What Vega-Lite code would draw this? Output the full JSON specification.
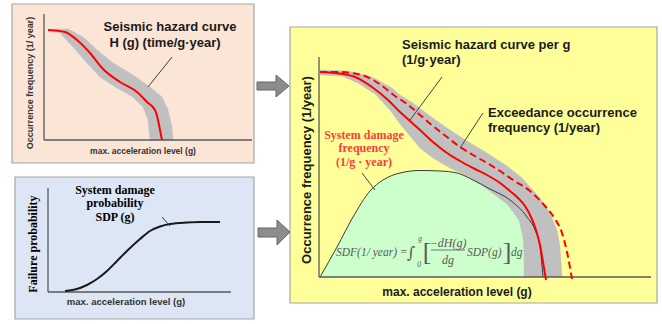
{
  "$schema": "https://vega.github.io/schema/vega-lite/v6.json",
  "width": 662,
  "height": 324,
  "autosize": {"type": "fit", "contains": "padding"},
  "padding": 0,
  "background": "white",
  "config": {"view": {"stroke": null}, "axis": {"disable": true}, "legend": {"disable": true}},
  "datasets": {
    "boxes": [
      {"panel": "hazard", "x": 12, "x2": 254, "y": 4, "y2": 163},
      {"panel": "damage", "x": 15, "x2": 254, "y": 177, "y2": 319},
      {"panel": "result", "x": 290, "x2": 657, "y": 27, "y2": 303}
    ],
    "axes": [
      {"x": 44, "y": 14, "x2": 44, "y2": 140},
      {"x": 44, "y": 140, "x2": 252, "y2": 140},
      {"x": 48, "y": 188, "x2": 48, "y2": 292},
      {"x": 48, "y": 292, "x2": 231, "y2": 292},
      {"x": 319, "y": 57, "x2": 319, "y2": 277},
      {"x": 319, "y": 277, "x2": 651, "y2": 277}
    ],
    "leaders": [
      {"x": 172, "y": 57, "x2": 148, "y2": 87},
      {"x": 162, "y": 217, "x2": 170, "y2": 226},
      {"x": 442, "y": 77, "x2": 410, "y2": 120},
      {"x": 483, "y": 113, "x2": 460, "y2": 148},
      {"x": 362, "y": 173, "x2": 375, "y2": 190}
    ],
    "smallBand": [
      {"i": 1, "x": 48, "y": 29}, {"i": 2, "x": 68, "y": 29}, {"i": 3, "x": 83, "y": 37}, {"i": 4, "x": 97, "y": 50},
      {"i": 5, "x": 113, "y": 63}, {"i": 6, "x": 133, "y": 75}, {"i": 7, "x": 150, "y": 87}, {"i": 8, "x": 162, "y": 97},
      {"i": 9, "x": 168, "y": 110}, {"i": 10, "x": 172, "y": 127}, {"i": 11, "x": 173, "y": 140},
      {"i": 12, "x": 150, "y": 140}, {"i": 13, "x": 148, "y": 120}, {"i": 14, "x": 143, "y": 107}, {"i": 15, "x": 133, "y": 97},
      {"i": 16, "x": 117, "y": 88}, {"i": 17, "x": 100, "y": 77}, {"i": 18, "x": 87, "y": 63}, {"i": 19, "x": 73, "y": 47},
      {"i": 20, "x": 60, "y": 33}, {"i": 21, "x": 48, "y": 31}
    ],
    "smallRed": [
      {"i": 1, "x": 48, "y": 30}, {"i": 2, "x": 65, "y": 32}, {"i": 3, "x": 77, "y": 40}, {"i": 4, "x": 90, "y": 53},
      {"i": 5, "x": 103, "y": 69}, {"i": 6, "x": 120, "y": 82}, {"i": 7, "x": 137, "y": 92}, {"i": 8, "x": 147, "y": 102},
      {"i": 9, "x": 155, "y": 110}, {"i": 10, "x": 158, "y": 120}, {"i": 11, "x": 160, "y": 130}, {"i": 12, "x": 162, "y": 140}
    ],
    "sdp": [
      {"i": 1, "x": 65, "y": 291}, {"i": 2, "x": 75, "y": 289.5}, {"i": 3, "x": 87, "y": 285}, {"i": 4, "x": 97, "y": 279},
      {"i": 5, "x": 107, "y": 271}, {"i": 6, "x": 117, "y": 261}, {"i": 7, "x": 128, "y": 250}, {"i": 8, "x": 140, "y": 239},
      {"i": 9, "x": 150, "y": 231}, {"i": 10, "x": 160, "y": 226.5}, {"i": 11, "x": 170, "y": 224}, {"i": 12, "x": 187, "y": 222.5},
      {"i": 13, "x": 200, "y": 222}, {"i": 14, "x": 220, "y": 222}
    ],
    "sdf": [
      {"i": 1, "x": 320, "y": 277}, {"i": 2, "x": 337, "y": 247}, {"i": 3, "x": 353, "y": 217}, {"i": 4, "x": 370, "y": 191},
      {"i": 5, "x": 383, "y": 180}, {"i": 6, "x": 400, "y": 173}, {"i": 7, "x": 420, "y": 170.5}, {"i": 8, "x": 440, "y": 171},
      {"i": 9, "x": 457, "y": 173}, {"i": 10, "x": 473, "y": 180}, {"i": 11, "x": 490, "y": 189}, {"i": 12, "x": 510, "y": 200},
      {"i": 13, "x": 527, "y": 217}, {"i": 14, "x": 535, "y": 230}, {"i": 15, "x": 540, "y": 247}, {"i": 16, "x": 543, "y": 277}
    ],
    "bigBand": [
      {"i": 1, "x": 320, "y": 70}, {"i": 2, "x": 348, "y": 71}, {"i": 3, "x": 372, "y": 77}, {"i": 4, "x": 392, "y": 88},
      {"i": 5, "x": 400, "y": 95}, {"i": 6, "x": 413, "y": 103}, {"i": 7, "x": 430, "y": 116}, {"i": 8, "x": 447, "y": 128},
      {"i": 9, "x": 467, "y": 141}, {"i": 10, "x": 487, "y": 153}, {"i": 11, "x": 507, "y": 166}, {"i": 12, "x": 522, "y": 178},
      {"i": 13, "x": 540, "y": 198}, {"i": 14, "x": 550, "y": 213}, {"i": 15, "x": 557, "y": 230}, {"i": 16, "x": 560, "y": 247},
      {"i": 17, "x": 562, "y": 277},
      {"i": 18, "x": 524, "y": 277}, {"i": 19, "x": 524, "y": 253}, {"i": 20, "x": 523, "y": 237}, {"i": 21, "x": 519, "y": 220},
      {"i": 22, "x": 507, "y": 204}, {"i": 23, "x": 491, "y": 192}, {"i": 24, "x": 480, "y": 184}, {"i": 25, "x": 467, "y": 176},
      {"i": 26, "x": 450, "y": 168}, {"i": 27, "x": 433, "y": 158}, {"i": 28, "x": 420, "y": 148}, {"i": 29, "x": 410, "y": 136},
      {"i": 30, "x": 400, "y": 124}, {"i": 31, "x": 390, "y": 110}, {"i": 32, "x": 375, "y": 94}, {"i": 33, "x": 358, "y": 83},
      {"i": 34, "x": 342, "y": 76}, {"i": 35, "x": 320, "y": 75}
    ],
    "bigRed": [
      {"i": 1, "x": 320, "y": 72}, {"i": 2, "x": 335, "y": 73}, {"i": 3, "x": 355, "y": 77}, {"i": 4, "x": 372, "y": 87},
      {"i": 5, "x": 388, "y": 100}, {"i": 6, "x": 400, "y": 112}, {"i": 7, "x": 410, "y": 121}, {"i": 8, "x": 420, "y": 130},
      {"i": 9, "x": 433, "y": 142}, {"i": 10, "x": 447, "y": 153}, {"i": 11, "x": 460, "y": 161}, {"i": 12, "x": 473, "y": 168},
      {"i": 13, "x": 487, "y": 175}, {"i": 14, "x": 500, "y": 183}, {"i": 15, "x": 510, "y": 191}, {"i": 16, "x": 518, "y": 198},
      {"i": 17, "x": 525, "y": 206}, {"i": 18, "x": 531, "y": 217}, {"i": 19, "x": 536, "y": 230}, {"i": 20, "x": 540, "y": 245},
      {"i": 21, "x": 543, "y": 262}, {"i": 22, "x": 546, "y": 280}
    ],
    "bigDash": [
      {"i": 1, "x": 320, "y": 72}, {"i": 2, "x": 338, "y": 72}, {"i": 3, "x": 362, "y": 75}, {"i": 4, "x": 378, "y": 83},
      {"i": 5, "x": 395, "y": 96}, {"i": 6, "x": 407, "y": 104}, {"i": 7, "x": 420, "y": 115}, {"i": 8, "x": 433, "y": 126},
      {"i": 9, "x": 447, "y": 137}, {"i": 10, "x": 460, "y": 147}, {"i": 11, "x": 473, "y": 155}, {"i": 12, "x": 487, "y": 163},
      {"i": 13, "x": 500, "y": 171}, {"i": 14, "x": 513, "y": 180}, {"i": 15, "x": 530, "y": 191}, {"i": 16, "x": 545, "y": 206},
      {"i": 17, "x": 555, "y": 219}, {"i": 18, "x": 562, "y": 233}, {"i": 19, "x": 567, "y": 252}, {"i": 20, "x": 572, "y": 279}
    ],
    "arrows": [
      {"id": "a", "i": 1, "x": 257, "y": 82}, {"id": "a", "i": 2, "x": 276, "y": 82}, {"id": "a", "i": 3, "x": 276, "y": 75},
      {"id": "a", "i": 4, "x": 289, "y": 86}, {"id": "a", "i": 5, "x": 276, "y": 97}, {"id": "a", "i": 6, "x": 276, "y": 90},
      {"id": "a", "i": 7, "x": 257, "y": 90}, {"id": "a", "i": 8, "x": 257, "y": 82},
      {"id": "b", "i": 1, "x": 258, "y": 228}, {"id": "b", "i": 2, "x": 277, "y": 228}, {"id": "b", "i": 3, "x": 277, "y": 220},
      {"id": "b", "i": 4, "x": 290, "y": 232}, {"id": "b", "i": 5, "x": 277, "y": 245}, {"id": "b", "i": 6, "x": 277, "y": 237},
      {"id": "b", "i": 7, "x": 258, "y": 237}, {"id": "b", "i": 8, "x": 258, "y": 228}
    ]
  },
  "encoding": {
    "x": {"field": "x", "type": "quantitative", "scale": {"domain": [0, 662], "nice": false, "zero": false}, "axis": null},
    "y": {"field": "y", "type": "quantitative", "scale": {"domain": [0, 324], "nice": false, "zero": false, "reverse": true}, "axis": null}
  },
  "layer": [
    {
      "data": {"name": "boxes"},
      "mark": {"type": "rect", "stroke": "#A6A6A6", "strokeWidth": 1.2},
      "encoding": {
        "x2": {"field": "x2"}, "y2": {"field": "y2"},
        "color": {"field": "panel", "type": "nominal", "scale": {"domain": ["hazard", "damage", "result"], "range": ["#FBE5D6", "#DCE6F4", "#FFFF99"]}, "legend": null}
      }
    },
    {
      "data": {"name": "arrows"},
      "mark": {"type": "line", "fill": "#8C8C8C", "stroke": "#666666", "strokeWidth": 1},
      "encoding": {"order": {"field": "i", "type": "quantitative"}, "detail": {"field": "id", "type": "nominal"}}
    },
    {
      "data": {"name": "sdf"},
      "mark": {"type": "area", "color": "#CCFFCC"},
      "encoding": {"y2": {"datum": 277}}
    },
    {
      "data": {"name": "smallBand"},
      "mark": {"type": "line", "fill": "#C0C0C0", "stroke": "#C0C0C0", "strokeWidth": 0.5},
      "encoding": {"order": {"field": "i", "type": "quantitative"}}
    },
    {
      "data": {"name": "bigBand"},
      "mark": {"type": "line", "fill": "#C0C0C0", "stroke": "#C0C0C0", "strokeWidth": 0.5},
      "encoding": {"order": {"field": "i", "type": "quantitative"}}
    },
    {
      "data": {"name": "sdf"},
      "mark": {"type": "line", "color": "#3A3A3A", "strokeWidth": 1, "interpolate": "monotone"},
      "encoding": {"order": {"field": "i", "type": "quantitative"}}
    },
    {
      "data": {"name": "axes"},
      "mark": {"type": "rule", "color": "#595959", "strokeWidth": 1.3},
      "encoding": {"x2": {"field": "x2"}, "y2": {"field": "y2"}}
    },
    {
      "data": {"name": "smallRed"},
      "mark": {"type": "line", "color": "#FF0000", "strokeWidth": 2, "interpolate": "monotone"},
      "encoding": {"order": {"field": "i", "type": "quantitative"}}
    },
    {
      "data": {"name": "bigRed"},
      "mark": {"type": "line", "color": "#FF0000", "strokeWidth": 2, "interpolate": "monotone"},
      "encoding": {"order": {"field": "i", "type": "quantitative"}}
    },
    {
      "data": {"name": "bigDash"},
      "mark": {"type": "line", "color": "#FF0000", "strokeWidth": 2, "strokeDash": [7, 4], "interpolate": "monotone"},
      "encoding": {"order": {"field": "i", "type": "quantitative"}}
    },
    {
      "data": {"name": "sdp"},
      "mark": {"type": "line", "color": "#1A1A1A", "strokeWidth": 2, "interpolate": "monotone"},
      "encoding": {"order": {"field": "i", "type": "quantitative"}}
    },
    {
      "data": {"name": "leaders"},
      "mark": {"type": "rule", "color": "#404040", "strokeWidth": 1},
      "encoding": {"x2": {"field": "x2"}, "y2": {"field": "y2"}}
    },
    {
      "data": {"values": [
        {"t": "Seismic hazard curve", "x": 170, "y": 27},
        {"t": "H (g) (time/g·year)", "x": 165, "y": 43}
      ]},
      "mark": {"type": "text", "font": "Liberation Sans", "fontWeight": "bold", "fontSize": 13, "align": "center", "baseline": "middle", "color": "#1A1A1A"},
      "encoding": {"text": {"field": "t"}}
    },
    {
      "data": {"values": [
        {"t": "Seismic hazard curve per g", "x": 402, "y": 45},
        {"t": "(1/g·year)", "x": 402, "y": 60},
        {"t": "Exceedance occurrence", "x": 488, "y": 113},
        {"t": "frequency (1/year)", "x": 488, "y": 128}
      ]},
      "mark": {"type": "text", "font": "Liberation Sans", "fontWeight": "bold", "fontSize": 13, "align": "left", "baseline": "middle", "color": "#1A1A1A"},
      "encoding": {"text": {"field": "t"}}
    },
    {
      "data": {"values": [
        {"t": "System damage", "x": 115, "y": 190},
        {"t": "probability", "x": 115, "y": 203},
        {"t": "SDP (g)", "x": 115, "y": 217}
      ]},
      "mark": {"type": "text", "font": "Liberation Serif", "fontWeight": "bold", "fontSize": 12, "align": "center", "baseline": "middle", "color": "#000000"},
      "encoding": {"text": {"field": "t"}}
    },
    {
      "data": {"values": [
        {"t": "System damage", "x": 364, "y": 135},
        {"t": "frequency", "x": 364, "y": 148},
        {"t": "(1/g · year)", "x": 364, "y": 162}
      ]},
      "mark": {"type": "text", "font": "Liberation Serif", "fontWeight": "bold", "fontSize": 12, "align": "center", "baseline": "middle", "color": "#FF3B3B"},
      "encoding": {"text": {"field": "t"}}
    },
    {
      "data": {"values": [{"t": "Occurrence frequency (1/ year)", "x": 30, "y": 83}]},
      "mark": {"type": "text", "font": "Liberation Sans", "fontWeight": "bold", "fontSize": 9, "angle": 270, "align": "center", "baseline": "middle", "color": "#333333"},
      "encoding": {"text": {"field": "t"}}
    },
    {
      "data": {"values": [{"t": "max. acceleration level (g)", "x": 143, "y": 151}]},
      "mark": {"type": "text", "font": "Liberation Sans", "fontWeight": "bold", "fontSize": 8.5, "align": "center", "baseline": "middle", "color": "#333333"},
      "encoding": {"text": {"field": "t"}}
    },
    {
      "data": {"values": [{"t": "Failure probability", "x": 33, "y": 244}]},
      "mark": {"type": "text", "font": "Liberation Serif", "fontWeight": "bold", "fontSize": 12, "angle": 270, "align": "center", "baseline": "middle", "color": "#000000"},
      "encoding": {"text": {"field": "t"}}
    },
    {
      "data": {"values": [{"t": "max. acceleration level (g)", "x": 126, "y": 302}]},
      "mark": {"type": "text", "font": "Liberation Sans", "fontWeight": "bold", "fontSize": 9.5, "align": "center", "baseline": "middle", "color": "#333333"},
      "encoding": {"text": {"field": "t"}}
    },
    {
      "data": {"values": [{"t": "Occurrence frequency (1/year)", "x": 307, "y": 170}]},
      "mark": {"type": "text", "font": "Liberation Sans", "fontWeight": "bold", "fontSize": 13, "angle": 270, "align": "center", "baseline": "middle", "color": "#1A1A1A"},
      "encoding": {"text": {"field": "t"}}
    },
    {
      "data": {"values": [{"t": "max. acceleration level (g)", "x": 457, "y": 292}]},
      "mark": {"type": "text", "font": "Liberation Sans", "fontWeight": "bold", "fontSize": 12, "align": "center", "baseline": "middle", "color": "#1A1A1A"},
      "encoding": {"text": {"field": "t"}}
    },
    {
      "data": {"values": [
        {"t": "SDF(1/ year) =", "x": 336, "y": 253},
        {"t": "SDP(g)", "x": 467, "y": 253},
        {"t": "dg", "x": 511, "y": 253}
      ]},
      "mark": {"type": "text", "font": "Liberation Serif", "fontStyle": "italic", "fontSize": 11.5, "align": "left", "baseline": "middle", "color": "#595959"},
      "encoding": {"text": {"field": "t"}}
    },
    {
      "data": {"values": [
        {"t": "−dH(g)", "x": 448, "y": 243},
        {"t": "dg", "x": 448, "y": 260}
      ]},
      "mark": {"type": "text", "font": "Liberation Serif", "fontStyle": "italic", "fontSize": 12, "align": "center", "baseline": "middle", "color": "#595959"},
      "encoding": {"text": {"field": "t"}}
    },
    {
      "data": {"values": [{"x": 431, "y": 250, "x2": 465, "y2": 250}]},
      "mark": {"type": "rule", "color": "#595959", "strokeWidth": 0.8},
      "encoding": {"x2": {"field": "x2"}, "y2": {"field": "y2"}}
    },
    {
      "data": {"values": [{"t": "∫", "x": 411, "y": 253}]},
      "mark": {"type": "text", "font": "DejaVu Serif", "fontSize": 16, "align": "center", "baseline": "middle", "color": "#595959"},
      "encoding": {"text": {"field": "t"}}
    },
    {
      "data": {"values": [
        {"t": "g", "x": 420, "y": 239},
        {"t": "0", "x": 419, "y": 265}
      ]},
      "mark": {"type": "text", "font": "Liberation Serif", "fontStyle": "italic", "fontSize": 7.5, "align": "center", "baseline": "middle", "color": "#595959"},
      "encoding": {"text": {"field": "t"}}
    },
    {
      "data": {"values": [
        {"t": "[", "x": 427, "y": 252},
        {"t": "]", "x": 507, "y": 252}
      ]},
      "mark": {"type": "text", "font": "Liberation Serif", "fontSize": 26, "fontWeight": "normal", "align": "center", "baseline": "middle", "color": "#595959"},
      "encoding": {"text": {"field": "t"}}
    }
  ]
}
